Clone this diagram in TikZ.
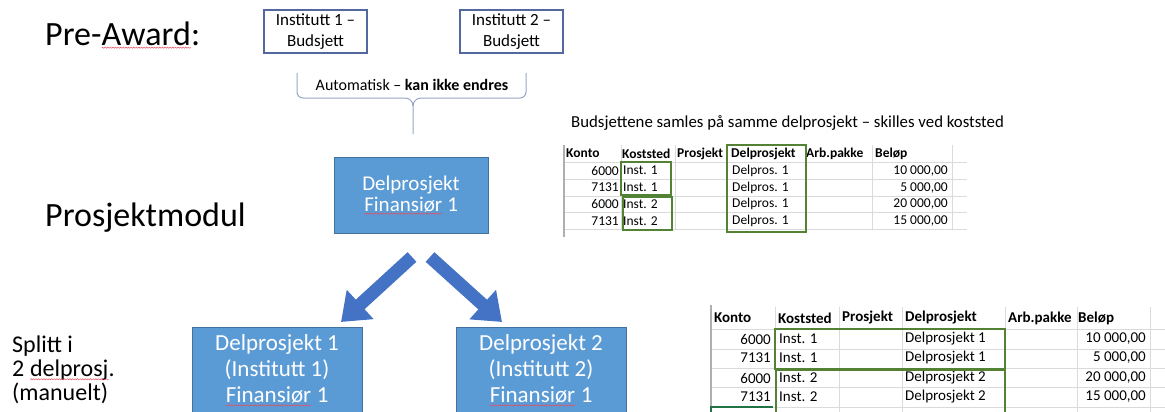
\documentclass[tikz,border=0pt]{standalone}
\usepackage{fontspec}
\setmainfont{Carlito}
\usetikzlibrary{arrows.meta,decorations.pathmorphing}
\definecolor{boxline}{RGB}{84,104,160}
\definecolor{bluefill}{RGB}{91,155,213}
\definecolor{blueedge}{RGB}{65,113,156}
\definecolor{arrowblue}{RGB}{68,114,196}
\definecolor{grn}{RGB}{84,130,53}
\definecolor{gridc}{RGB}{218,218,218}
\definecolor{gridl}{RGB}{175,175,175}
\definecolor{spellred}{RGB}{225,80,100}
\definecolor{bracec}{RGB}{150,165,200}
\definecolor{selgreen}{RGB}{33,115,70}
\newcommand\fs[2]{\fontsize{#1}{#2}\selectfont}
\newcommand\spellerr[1]{\tikz[baseline=(sw.base)]{\node[inner sep=0pt,outer sep=0pt,minimum width=0pt,minimum height=0pt,draw=none,fill=none,anchor=base](sw){#1};\draw[spellred,line width=0.5pt,decorate,decoration={snake,amplitude=0.6pt,segment length=2.6pt}] ([yshift=-2.6pt]sw.base west) -- ([yshift=-2.6pt]sw.base east);}}
% table 1 row
\newcommand\rowA[6]{%
  \node[tA,anchor=east] (a#1k) at (619,#2) {#3};
  \node[tA,anchor=west] (a#1s) at (623,#2) {#4};
  \node[tA,anchor=west] (a#1d) at (732,#2) {#5};
  \node[tA,anchor=east] (a#1b) at (948,#2) {#6};}
% table 2 row
\newcommand\rowB[6]{%
  \node[tB,anchor=east] (b#1k) at (771,#2) {#3};
  \node[tB,anchor=west] (b#1s) at (779,#2) {#4};
  \node[tB,anchor=west] (b#1d) at (905,#2) {#5};
  \node[tB,anchor=east] (b#1b) at (1146,#2) {#6};}
\begin{document}
\begin{tikzpicture}[x=1pt,y=-1pt,
  lbl/.style={anchor=west,inner sep=0pt,text=black},
  budbox/.style={draw=boxline,line width=1.2pt,minimum width=103pt,minimum height=43pt,align=center,font=\fs{17}{21},inner sep=0pt},
  bluebox/.style={fill=bluefill,draw=blueedge,line width=1pt,text=white,align=center,inner sep=0pt},
  bigarrow/.style={draw=arrowblue,line width=13pt,-{Triangle[length=26pt,width=38pt]}},
  tA/.style={font=\fs{13.5}{15},inner sep=0pt},
  tB/.style={font=\fs{15}{17},inner sep=0pt},
  gridline/.style={draw=gridc,line width=0.8pt},
  greenbox/.style={draw=grn,line width=1.8pt},
  bracestyle/.style={draw=bracec,line width=1pt}
]
\useasboundingbox (0,0) rectangle (1165,412);

% left labels
\node[lbl,font=\fs{34}{36}] (pre) at (45,35) {Pre-\spellerr{Award}:};
\node[lbl,font=\fs{34}{36}] (pm) at (45,218) {Prosjektmodul};
\node[lbl,font=\fs{24}{24},align=left] (split) at (12,370) {Splitt i\\2 \spellerr{delprosj}.\\(manuelt)};

% top budget boxes
\node[budbox] (b1) at (315.5,31.5) {Institutt 1 –\\Budsjett};
\node[budbox] (b2) at (511.5,31.5) {Institutt 2 –\\Budsjett};

% brace
\draw[bracestyle] (297,73) -- (297,92) to[out=-90,in=180] (303,98) -- (405,98) to[out=0,in=90] (413,106) -- (413,134);
\draw[bracestyle] (526,73) -- (526,92) to[out=-90,in=0] (520,98) -- (421,98) to[out=180,in=90] (413,106);
\node[font=\fs{16}{18},inner sep=0pt] (auto) at (412,85) {Automatisk – \textbf{kan ikke endres}};

% middle blue box
\node[bluebox,minimum width=154pt,minimum height=76pt,font=\fs{21}{21}] (mid) at (411,195) {Delprosjekt\\\spellerr{Finansiør} 1};

% lower blue boxes
\node[bluebox,minimum width=170pt,minimum height=87pt,font=\fs{23}{26}] (dp1) at (277,370.5) {Delprosjekt 1\\(Institutt 1)\\\spellerr{Finansiør} 1};
\node[bluebox,minimum width=170pt,minimum height=87pt,font=\fs{23}{26}] (dp2) at (541,370.5) {Delprosjekt 2\\(Institutt 2)\\\spellerr{Finansiør} 1};

% arrows
\coordinate (l0) at (412,257);
\coordinate (l1) at (341,322);
\coordinate (r0) at (430,257);
\coordinate (r1) at (502,322);
\draw[bigarrow] (l0) -- (l1);
\draw[bigarrow] (r0) -- (r1);

% table 1
\node[lbl,font=\fs{16.8}{18}] (title1) at (571,123) {Budsjettene samles på samme delprosjekt – skilles ved koststed};
\foreach \yy in {162,179,196,212.5,229} \draw[gridline] (564,\yy) -- (967,\yy);
\foreach \xx in {621,675,727,805,872,952} \draw[gridline] (\xx,145) -- (\xx,229);
\draw[gridl,line width=1.5pt] (564,145) -- (564,237);
\node[tA,anchor=west] (ah1) at (566,153.5) {\textbf{Konto}};
\node[tA,anchor=west] (ah2) at (622,153.5) {\textbf{Koststed}};
\node[tA,anchor=west] (ah3) at (677,153.5) {\textbf{Prosjekt}};
\node[tA,anchor=west] (ah4) at (731,153.5) {\textbf{Delprosjekt}};
\node[tA,anchor=west] (ah5) at (806,153.5) {\textbf{Arb.pakke}};
\node[tA,anchor=west] (ah6) at (875,153.5) {\textbf{Beløp}};
\rowA{1}{170.5}{6000}{Inst. 1}{Delpros. 1}{10 000,00}
\rowA{2}{187.5}{7131}{Inst. 1}{Delpros. 1}{5 000,00}
\rowA{3}{204}{6000}{Inst. 2}{Delpros. 1}{20 000,00}
\rowA{4}{221}{7131}{Inst. 2}{Delpros. 1}{15 000,00}
\draw[greenbox] (621,162) rectangle (671,195);
\draw[greenbox] (623,197) rectangle (672,230);
\draw[greenbox] (727,145) rectangle (806,232);

% table 2
\foreach \yy in {329,349,368,387,407} \draw[gridline] (711,\yy) -- (1165,\yy);
\foreach \xx in {775,839,902,1005,1077,1150} \draw[gridline] (\xx,307) -- (\xx,412);
\draw[gridl,line width=1.5pt] (711,305) -- (711,407);
\node[tB,anchor=west] (bh1) at (714,318) {\textbf{Konto}};
\node[tB,anchor=west] (bh2) at (778,318) {\textbf{Koststed}};
\node[tB,anchor=west] (bh3) at (842,318) {\textbf{Prosjekt}};
\node[tB,anchor=west] (bh4) at (905,318) {\textbf{Delprosjekt}};
\node[tB,anchor=west] (bh5) at (1008,318) {\textbf{Arb.pakke}};
\node[tB,anchor=west] (bh6) at (1078,318) {\textbf{Beløp}};
\rowB{1}{339}{6000}{Inst. 1}{Delprosjekt 1}{10 000,00}
\rowB{2}{358}{7131}{Inst. 1}{Delprosjekt 1}{5 000,00}
\rowB{3}{378}{6000}{Inst. 2}{Delprosjekt 2}{20 000,00}
\rowB{4}{397}{7131}{Inst. 2}{Delprosjekt 2}{15 000,00}
\draw[greenbox] (775,329) rectangle (1005,369);
\draw[greenbox] (776,370.5) rectangle (1005,416);
\draw[selgreen,line width=1.5pt] (711,415) -- (711,407) -- (773,407);
\end{tikzpicture}
\end{document}
